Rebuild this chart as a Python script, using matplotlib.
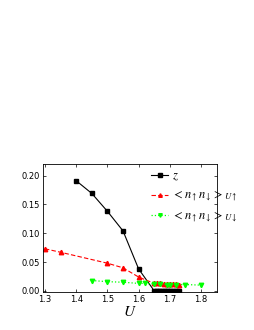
import matplotlib
matplotlib.use("Agg")
import matplotlib.pyplot as plt
import numpy as np

plt.rcParams['mathtext.fontset'] = 'stix'
plt.rcParams['font.family'] = ['DejaVu Sans']

# z data
z_U = [1.40, 1.45, 1.50, 1.55, 1.60, 1.65, 1.655, 1.66, 1.665, 1.67, 1.675, 1.68, 1.685,
       1.69, 1.695, 1.70, 1.705, 1.71, 1.715, 1.72, 1.725, 1.73]
z_val = [0.191, 0.169, 0.138, 0.104, 0.038, 0.0, 0.0, 0.0, 0.0, 0.0, 0.0, 0.0, 0.0,
         0.0, 0.0, 0.0, 0.0, 0.0, 0.0, 0.0, 0.0, 0.0]
# <n n>_U up
up_U = [1.30, 1.35, 1.50, 1.55, 1.60, 1.65, 1.66, 1.67, 1.68, 1.69, 1.70, 1.71, 1.72, 1.73]
up_val = [0.073, 0.067, 0.048, 0.040, 0.024, 0.013, 0.013, 0.013, 0.012, 0.012, 0.012,
          0.012, 0.012, 0.011]
# <n n>_U down
dn_U = [1.45, 1.50, 1.55, 1.60, 1.62, 1.65, 1.67, 1.69, 1.70, 1.72, 1.75, 1.80]
dn_val = [0.018, 0.016, 0.015, 0.013, 0.013, 0.012, 0.012, 0.011, 0.011, 0.011, 0.011, 0.010]

x_ticks = [1.3, 1.4, 1.5, 1.6, 1.7, 1.8]
y_ticks = [0.00, 0.05, 0.10, 0.15, 0.20]

fig = plt.figure(figsize=(2.55, 3.3), dpi=100)
ax = fig.add_axes([0.169, 0.115, 0.682, 0.388])

ax.plot(z_U, z_val, '-s', color='black', lw=0.8, ms=3, label=r'$z$')
ax.plot(up_U, up_val, '--^', color='red', lw=0.8, ms=3.2, dashes=(4, 2),
        label=r'$<n_{\uparrow}n_{\downarrow}>_{U\uparrow}$')
ax.plot(dn_U, dn_val, ':v', color='#00ff00', lw=0.9, ms=3.2,
        label=r'$<n_{\uparrow}n_{\downarrow}>_{U\downarrow}$')

ax.set_xlim(1.294, 1.851)
ax.set_ylim(-0.002, 0.220)
ax.set_xticks(x_ticks)
ax.set_xticklabels([f'{v:.1f}' for v in x_ticks])
ax.set_yticks(y_ticks)
ax.set_yticklabels([f'{v:.2f}' for v in y_ticks])
ax.tick_params(direction='in', top=True, right=True, labelsize=6, length=2.5, width=0.5, pad=2)
for s in ax.spines.values():
    s.set_linewidth(0.6)

ax.set_xlabel(r'$U$', fontsize=11, labelpad=0)

leg = ax.legend(loc='upper left', frameon=False, fontsize=9, handlelength=1.4,
                handletextpad=0.3, labelspacing=0.45, borderaxespad=0.0,
                borderpad=0.0, markerscale=0.8,
                bbox_to_anchor=(0.62, 0.955))

fig.savefig('out.png', dpi=100)
